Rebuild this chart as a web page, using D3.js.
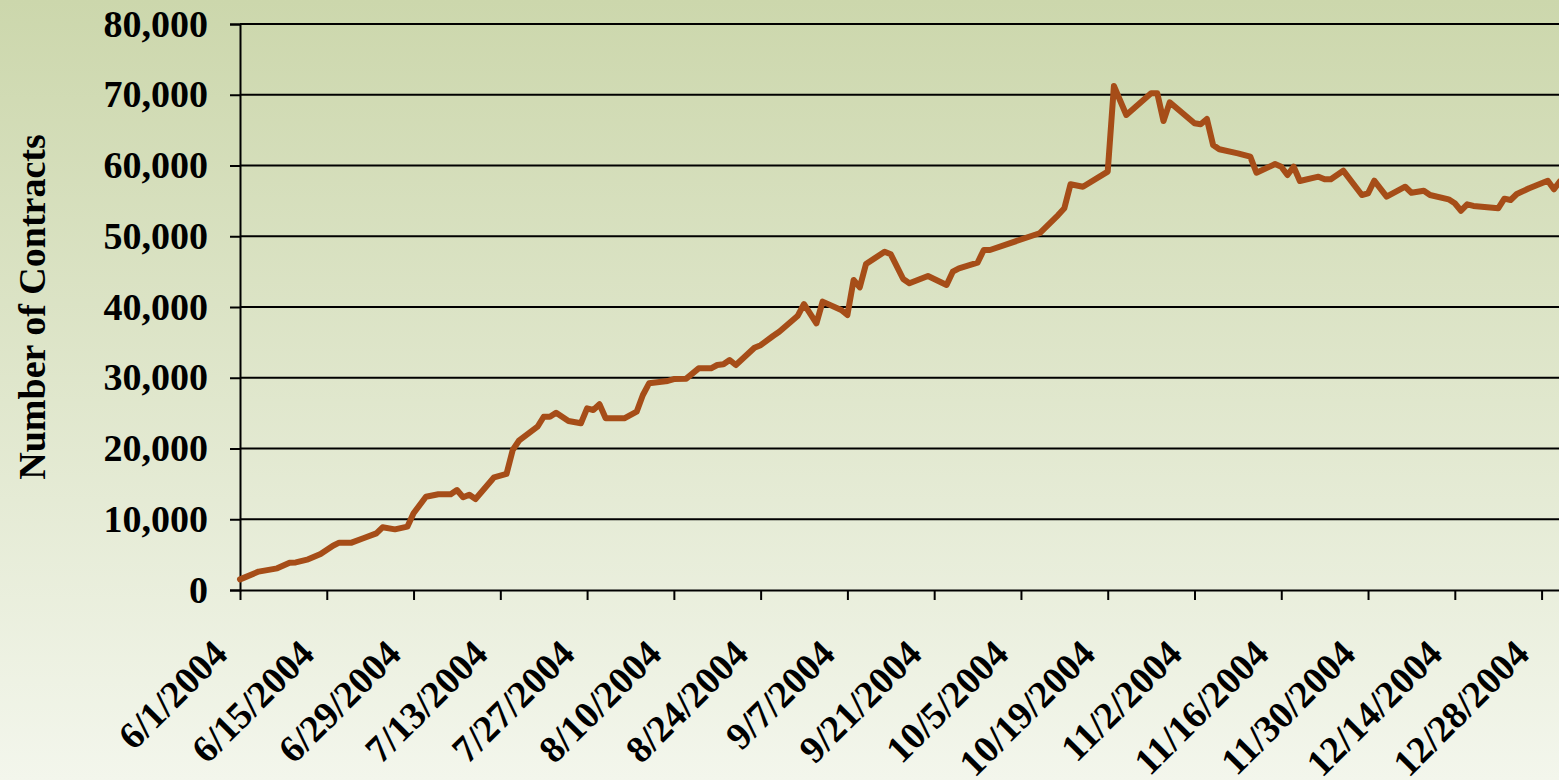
<!DOCTYPE html>
<html>
<head>
<meta charset="utf-8">
<script src="https://cdn.jsdelivr.net/npm/d3@7"></script>
<style>
  body { margin: 0; }
  svg { display: block; }
  text { font-family: "Liberation Serif", "Times New Roman", serif; font-weight: bold; fill: #000; }
</style>
</head>
<body>
<div id="chart"></div>
<script>
// Open interest, daily, 6/1/2004 - 12/31/2004
const dates = [
  "2004-06-01","2004-06-04","2004-06-07","2004-06-09","2004-06-10","2004-06-12","2004-06-14","2004-06-16",
  "2004-06-17","2004-06-19","2004-06-21","2004-06-23","2004-06-24","2004-06-26","2004-06-28","2004-06-29",
  "2004-07-01","2004-07-03","2004-07-05","2004-07-06","2004-07-07","2004-07-08","2004-07-09","2004-07-12",
  "2004-07-14","2004-07-15","2004-07-16","2004-07-19","2004-07-20","2004-07-21","2004-07-22","2004-07-24",
  "2004-07-26","2004-07-27","2004-07-28","2004-07-29","2004-07-30","2004-08-02","2004-08-04","2004-08-05",
  "2004-08-06","2004-08-09","2004-08-10","2004-08-12","2004-08-14","2004-08-16","2004-08-17","2004-08-18",
  "2004-08-19","2004-08-20","2004-08-23","2004-08-24","2004-08-26","2004-08-27","2004-08-30","2004-08-31",
  "2004-09-02","2004-09-03","2004-09-06","2004-09-07","2004-09-08","2004-09-09","2004-09-10","2004-09-13",
  "2004-09-14","2004-09-16","2004-09-17","2004-09-20","2004-09-23","2004-09-24","2004-09-25","2004-09-28",
  "2004-09-29","2004-09-30","2004-10-08","2004-10-11","2004-10-12","2004-10-13","2004-10-15","2004-10-19",
  "2004-10-20","2004-10-22","2004-10-26","2004-10-27","2004-10-28","2004-10-29","2004-11-02","2004-11-03",
  "2004-11-04","2004-11-05","2004-11-06","2004-11-09","2004-11-11","2004-11-12","2004-11-15","2004-11-16",
  "2004-11-17","2004-11-18","2004-11-19","2004-11-22","2004-11-23","2004-11-24","2004-11-26","2004-11-29",
  "2004-11-30","2004-12-01","2004-12-03","2004-12-06","2004-12-07","2004-12-09","2004-12-10","2004-12-13",
  "2004-12-14","2004-12-15","2004-12-16","2004-12-17","2004-12-21","2004-12-22","2004-12-23","2004-12-24",
  "2004-12-26","2004-12-29","2004-12-30","2004-12-31"
];
const contracts = [
  1500, 2600, 3060, 3860, 3900, 4330, 5090, 6260,
  6690, 6690, 7350, 8010, 8860, 8570, 8950, 10840,
  13190, 13530, 13530, 14130, 13100, 13470, 12860, 15930,
  16400, 19790, 21100, 23080, 24490, 24490, 25060, 23890,
  23560, 25680, 25440, 26250, 24270, 24270, 25200, 27560,
  29210, 29540, 29820, 29870, 31330, 31330, 31800, 31900,
  32510, 31800, 34250, 34600, 35900, 36510, 38770, 40420,
  37690, 40760, 39580, 38870, 43820, 42780, 46080, 47820,
  47450, 43960, 43350, 44380, 43110, 44990, 45470, 46260,
  48060, 48060, 50420, 53000, 53950, 57340, 57000, 59130,
  71240, 67140, 70200, 70200, 66290, 68930, 65960, 65820,
  66570, 62900, 62290, 61720, 61250, 58980, 60200, 59830,
  58660, 59830, 57810, 58420, 58050, 58050, 59270, 55830,
  56070, 57850, 55590, 57000, 56150, 56440, 55830, 55220,
  54660, 53610, 54510, 54280, 53950, 55310, 55120, 55970,
  56780, 57850, 56640, 57800
];
const tickDates = [
  "2004-06-01","2004-06-15","2004-06-29","2004-07-13","2004-07-27","2004-08-10","2004-08-24","2004-09-07",
  "2004-09-21","2004-10-05","2004-10-19","2004-11-02","2004-11-16","2004-11-30","2004-12-14","2004-12-28"
];
const yTicks = [0, 10000, 20000, 30000, 40000, 50000, 60000, 70000, 80000];

const width = 1559, height = 780;
const parse = d3.utcParse("%Y-%m-%d");
const fmtDate = d3.utcFormat("%-m/%-d/%Y");
const data = dates.map((d, i) => ({ date: parse(d), value: contracts[i] }));

const x = d3.scaleUtc()
  .domain([parse("2004-06-01"), parse("2005-01-11")])
  .range([240, 240 + 224 * 6.198]);
const y = d3.scaleLinear().domain([0, 80000]).range([590, 24]);

const svg = d3.select("#chart").append("svg")
  .attr("width", width)
  .attr("height", height);

// Background gradient
const grad = svg.append("defs").append("linearGradient")
  .attr("id", "bg").attr("x1", 0).attr("y1", 0).attr("x2", 0).attr("y2", 1);
grad.append("stop").attr("offset", "0%").attr("stop-color", "#ccd7ac");
grad.append("stop").attr("offset", "100%").attr("stop-color", "#f3f6ec");
svg.append("rect").attr("width", width).attr("height", height).attr("fill", "url(#bg)");

// Gridlines
svg.append("g")
  .selectAll("line")
  .data(yTicks.filter(d => d > 0))
  .join("line")
  .attr("x1", 240).attr("x2", x.range()[1])
  .attr("y1", d => y(d)).attr("y2", d => y(d))
  .attr("stroke", "#000").attr("stroke-width", 2);

// Y axis
const yAxis = svg.append("g")
  .attr("transform", "translate(240,0)")
  .call(d3.axisLeft(y).tickValues(yTicks).tickSize(10).tickPadding(22).tickFormat(d3.format(",")));
yAxis.select(".domain").attr("stroke", "#000").attr("stroke-width", 2);
yAxis.selectAll(".tick line").attr("stroke", "#000").attr("stroke-width", 2);
yAxis.selectAll(".tick text")
  .style("font-size", "38px")
  .style("font-family", "'Liberation Serif', serif")
  .style("font-weight", "bold");

// X axis
const xAxis = svg.append("g")
  .attr("transform", "translate(0,590)")
  .call(d3.axisBottom(x).tickValues(tickDates.map(parse)).tickSize(10).tickSizeOuter(0).tickFormat(fmtDate));
xAxis.select(".domain").attr("stroke", "#000").attr("stroke-width", 2);
xAxis.selectAll(".tick line").attr("stroke", "#000").attr("stroke-width", 2);
xAxis.selectAll(".tick text")
  .attr("text-anchor", "end")
  .attr("x", 0).attr("y", 0).attr("dy", 0)
  .attr("transform", "translate(-11,66) rotate(-45)")
  .style("font-size", "38px")
  .style("font-family", "'Liberation Serif', serif")
  .style("font-weight", "bold");

// Y axis title
svg.append("text")
  .attr("transform", "translate(45,307) rotate(-90)")
  .attr("text-anchor", "middle")
  .style("font-size", "38px")
  .text("Number of Contracts");

// Line
const line = d3.line()
  .x(d => x(d.date))
  .y(d => y(d.value));

svg.append("path")
  .datum(data)
  .attr("fill", "none")
  .attr("stroke", "#a64d18")
  .attr("stroke-width", 6)
  .attr("stroke-linejoin", "round")
  .attr("stroke-linecap", "round")
  .attr("d", line);
</script>
</body>
</html>
